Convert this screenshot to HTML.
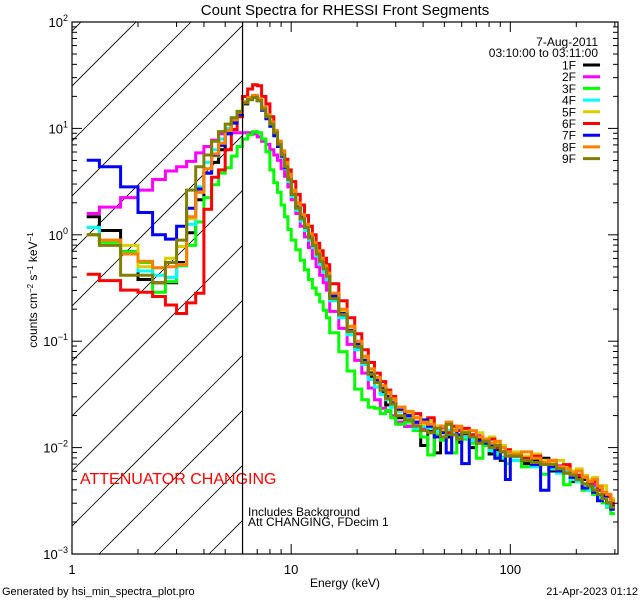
<!DOCTYPE html>
<html><head><meta charset="utf-8"><style>
html,body{margin:0;padding:0;background:#fff;}
svg{display:block;font-family:"Liberation Sans",sans-serif;}
</style></head><body>
<svg id="chart" width="640" height="600" viewBox="0 0 640 600" xmlns="http://www.w3.org/2000/svg">
<rect x="0" y="0" width="640" height="600" fill="#fff"/>
<text x="345" y="15" font-size="15" text-anchor="middle">Count Spectra for RHESSI Front Segments</text>
<g id="hatch"></g>
<g id="series"></g>
<g id="axes"></g>
<text x="80" y="484" font-size="16" fill="#ff0000">ATTENUATOR CHANGING</text>
<text x="248" y="516" font-size="12">Includes Background</text>
<text x="248" y="526" font-size="12">Att CHANGING, FDecim  1</text>
<text x="345" y="587" font-size="12" text-anchor="middle">Energy (keV)</text>
<text transform="translate(37,290) rotate(-90)" font-size="12" text-anchor="middle">counts cm<tspan baseline-shift="super" font-size="8">−2</tspan> s<tspan baseline-shift="super" font-size="8">−1</tspan> keV<tspan baseline-shift="super" font-size="8">−1</tspan></text>
<text x="2" y="595" font-size="11">Generated by hsi_min_spectra_plot.pro</text>
<text x="638" y="595" font-size="11" text-anchor="end">21-Apr-2023 01:12</text>
<text x="598" y="46" font-size="12" text-anchor="end">7-Aug-2011</text>
<text x="598" y="57" font-size="12" text-anchor="end">03:10:00 to 03:11:00</text>
<g id="legend"></g>
</svg>
<script>
const segmentNames = ["1F","2F","3F","4F","5F","6F","7F","8F","9F"];
const segmentColors = ["#000000","#ff00ff","#00ff00","#00ffff","#d8d000","#ff0000","#0000ff","#ff8000","#808000"];
const binEdges = [1.1667,1.3333,1.6667,2,2.3333,2.6667,3,3.3333,3.6667,4,4.3333,4.6667,5,5.3333,5.6667,6,6.3333,6.6667,7,7.3333,7.6667,8,8.3333,8.6667,9,9.3333,9.6667,10,
10.5,11,11.5,12,12.5,13,13.5,14,14.5,15,16.5,18,19.5,21,22.5,24,25.5,27,28.5,30,33,36,39,42,45,48,51,54,57,60,65,70,75,80,85,90,95,100,
112.5,125,137.5,150,162.5,175,187.5,200,212.5,225,237.5,250,262.5,275,287.5,300];
// log10(counts cm^-2 s^-1 keV^-1) per bin
const seg1F = [0.17,0.04,-0.16,-0.42,-0.45,-0.45,-0.26,0.02,0.33,0.58,0.68,0.80,0.95,1.07,1.15,
1.23,1.28,1.30,1.27,1.19,1.10,1.03,0.95,0.86,0.76,0.65,0.53,
0.39,0.26,0.16,0.06,-0.02,-0.11,-0.17,-0.26,-0.31,-0.40,
-0.58,-0.76,-0.89,-1.06,-1.18,-1.33,-1.38,-1.48,-1.60,-1.58,
-1.72,-1.80,-1.76,-1.98,-1.85,-2.05,-1.84,-1.90,-1.83,-1.95,-1.87,-2.00,-1.92,-1.96,-2.06,-2.02,-2.12,-2.05,
-2.08,-2.15,-2.12,-2.10,-2.22,-2.18,-2.20,-2.32,-2.28,-2.30,-2.38,-2.37,-2.45,-2.44,-2.52,-2.55];
const seg2F = [0.20,0.26,0.35,0.42,0.52,0.60,0.64,0.69,0.77,0.83,0.89,0.95,0.96,0.96,0.96,
0.96,0.96,0.95,0.92,0.88,0.85,0.80,0.75,0.70,0.62,0.55,0.45,
0.33,0.20,0.08,-0.02,-0.12,-0.22,-0.30,-0.38,-0.45,-0.52,
-0.72,-0.88,-1.03,-1.18,-1.30,-1.44,-1.55,-1.63,-1.66,-1.70,
-1.76,-1.80,-1.77,-1.82,-1.86,-1.80,-1.83,-1.86,-1.82,-1.84,-1.86,-1.90,-1.88,-1.95,-1.96,-1.99,-2.04,-2.02,
-2.06,-2.09,-2.08,-2.12,-2.14,-2.17,-2.18,-2.22,-2.26,-2.28,-2.30,-2.35,-2.39,-2.42,-2.46,-2.50];
const seg3F = [0.07,-0.07,-0.16,-0.26,-0.54,-0.44,-0.29,-0.10,0.12,0.35,0.47,0.58,0.63,0.74,0.83,
0.90,0.94,0.97,0.96,0.90,0.78,0.61,0.49,0.40,0.28,0.17,0.05,
-0.05,-0.14,-0.24,-0.33,-0.42,-0.50,-0.56,-0.63,-0.71,-0.78,
-0.92,-1.10,-1.28,-1.45,-1.55,-1.62,-1.63,-1.68,-1.65,-1.72,
-1.78,-1.76,-1.84,-1.90,-2.07,-1.88,-1.93,-1.87,-2.05,-1.90,-1.92,-1.96,-2.10,-1.98,-2.02,-2.08,-2.09,-2.15,
-2.12,-2.18,-2.16,-2.25,-2.20,-2.23,-2.35,-2.28,-2.32,-2.40,-2.38,-2.44,-2.47,-2.52,-2.56,-2.62];
const seg4F = [0.07,-0.05,-0.18,-0.34,-0.38,-0.40,-0.28,0.10,0.45,0.68,0.80,0.90,1.00,1.10,1.16,
1.25,1.29,1.31,1.27,1.17,1.10,1.02,0.94,0.84,0.73,0.62,0.50,
0.36,0.23,0.13,0.04,-0.05,-0.12,-0.20,-0.28,-0.35,-0.42,
-0.62,-0.78,-0.94,-1.08,-1.22,-1.36,-1.43,-1.50,-1.55,-1.62,
-1.66,-1.72,-1.82,-1.80,-1.82,-1.85,-1.90,-1.84,-1.88,-1.83,-1.90,-1.93,-1.96,-1.95,-2.03,-2.05,-2.10,-2.06,
-2.12,-2.10,-2.18,-2.15,-2.20,-2.24,-2.22,-2.30,-2.32,-2.35,-2.40,-2.38,-2.47,-2.45,-2.55,-2.52];
const seg5F = [0.00,-0.05,-0.10,-0.30,-0.31,-0.22,-0.11,0.15,0.40,0.62,0.74,0.85,0.98,1.08,1.15,
1.24,1.28,1.30,1.27,1.19,1.12,1.05,0.97,0.87,0.77,0.66,0.55,
0.40,0.28,0.17,0.09,-0.01,-0.08,-0.16,-0.23,-0.30,-0.37,
-0.56,-0.72,-0.88,-1.02,-1.16,-1.28,-1.36,-1.42,-1.50,-1.55,
-1.65,-1.68,-1.72,-1.78,-1.75,-1.80,-1.84,-1.78,-1.82,-1.80,-1.84,-1.88,-1.86,-1.92,-1.90,-1.96,-1.98,-2.02,
-2.04,-2.08,-2.06,-2.12,-2.14,-2.12,-2.18,-2.22,-2.20,-2.26,-2.30,-2.28,-2.38,-2.36,-2.44,-2.48];
const seg6F = [-0.37,-0.43,-0.52,-0.54,-0.58,-0.66,-0.74,-0.64,-0.55,0.24,0.54,0.61,0.80,0.99,1.11,
1.30,1.37,1.41,1.40,1.30,1.23,1.11,0.97,0.88,0.78,0.71,0.61,
0.50,0.38,0.28,0.18,0.08,0.00,-0.08,-0.15,-0.22,-0.28,
-0.46,-0.62,-0.78,-0.93,-1.08,-1.20,-1.30,-1.38,-1.46,-1.52,
-1.62,-1.70,-1.68,-1.76,-1.72,-1.82,-1.80,-1.86,-1.80,-1.84,-1.82,-1.88,-1.90,-1.94,-1.92,-2.00,-2.04,-2.02,
-2.06,-2.10,-2.08,-2.14,-2.12,-2.18,-2.16,-2.24,-2.26,-2.28,-2.34,-2.32,-2.40,-2.44,-2.46,-2.52];
const seg7F = [0.70,0.64,0.45,0.21,0.00,-0.04,0.08,0.25,0.43,0.58,0.75,0.84,0.95,1.05,1.13,
1.24,1.28,1.30,1.26,1.17,1.09,1.02,0.93,0.83,0.74,0.63,0.52,
0.38,0.26,0.16,0.07,-0.02,-0.10,-0.17,-0.24,-0.30,-0.38,
-0.57,-0.74,-0.90,-1.03,-1.18,-1.30,-1.37,-1.44,-1.52,-1.58,
-1.64,-1.70,-1.76,-1.74,-1.80,-1.90,-1.86,-2.05,-1.84,-1.88,-2.15,-1.90,-1.94,-1.96,-1.98,-2.10,-2.04,-2.30,
-2.08,-2.12,-2.16,-2.40,-2.18,-2.22,-2.24,-2.28,-2.30,-2.38,-2.36,-2.42,-2.50,-2.46,-2.52,-2.58];
const seg8F = [0.00,-0.05,-0.18,-0.25,-0.31,-0.30,-0.28,0.17,0.40,0.62,0.76,0.86,0.98,1.08,1.15,
1.25,1.29,1.31,1.28,1.20,1.13,1.06,0.98,0.88,0.79,0.68,0.57,
0.42,0.30,0.19,0.10,0.01,-0.07,-0.15,-0.22,-0.29,-0.36,
-0.55,-0.70,-0.86,-1.00,-1.14,-1.26,-1.34,-1.42,-1.48,-1.54,
-1.62,-1.66,-1.72,-1.76,-1.78,-1.82,-1.80,-1.76,-1.84,-1.80,-1.86,-1.84,-1.90,-1.92,-1.96,-1.94,-2.00,-2.04,
-2.06,-2.04,-2.10,-2.14,-2.12,-2.18,-2.20,-2.24,-2.22,-2.28,-2.32,-2.30,-2.36,-2.42,-2.44,-2.50];
const seg9F = [0.00,-0.10,-0.38,-0.38,-0.45,-0.26,-0.05,0.42,0.64,0.75,0.88,0.97,1.04,1.10,1.16,
1.24,1.27,1.29,1.26,1.18,1.11,1.04,0.96,0.85,0.75,0.64,0.52,
0.38,0.25,0.15,0.07,-0.03,-0.10,-0.18,-0.25,-0.32,-0.39,
-0.60,-0.75,-0.91,-1.05,-1.20,-1.31,-1.39,-1.46,-1.54,-1.59,
-1.70,-1.74,-1.80,-1.84,-1.86,-1.82,-1.90,-1.78,-1.88,-1.92,-1.86,-1.90,-1.96,-1.94,-2.00,-1.98,-2.04,-2.08,
-2.08,-2.12,-2.14,-2.16,-2.16,-2.20,-2.24,-2.26,-2.30,-2.34,-2.36,-2.40,-2.44,-2.48,-2.52,-2.56];
const allSeries = [seg1F,seg2F,seg3F,seg4F,seg5F,seg6F,seg7F,seg8F,seg9F];
const xTickValues = [1,10,100];
const xTickLabels = ["1","10","100"];
const yTickExponents = [-3,-2,-1,0,1,2];
const attenuatorEdgeKeV = 6;

const NS = "http://www.w3.org/2000/svg";
const L = 72, R = 618, T = 22, B = 554;
const xMin = 1, xMax = 310, yMinExp = -3, yMaxExp = 2;
function xs(e){ return L + (Math.log10(e) - Math.log10(xMin)) / (Math.log10(xMax) - Math.log10(xMin)) * (R - L); }
function ysLog(lg){ return B - (lg - yMinExp) / (yMaxExp - yMinExp) * (B - T); }
function mk(tag, attrs, parent){ const el = document.createElementNS(NS, tag); for (const k in attrs) el.setAttribute(k, attrs[k]); parent.appendChild(el); return el; }

// hatch
const hatch = document.getElementById('hatch');
const defs = mk('defs', {}, document.getElementById('chart'));
const cp = mk('clipPath', {id:'hclip'}, defs);
mk('rect', {x:L, y:T, width: xs(attenuatorEdgeKeV)-L, height:B-T}, cp);
const cp2 = mk('clipPath', {id:'pclip'}, defs);
mk('rect', {x:L, y:T, width:R-L, height:B-T}, cp2);
hatch.setAttribute('clip-path','url(#hclip)');
for (let k = -12; k <= 2; k++) {
  const c = 653 + k*55;
  const ln = mk('line', {x1:c-B, y1:B, x2:c-T, y2:T, stroke:'#000', 'stroke-width':0.8}, hatch);
  
  
}
const attLine = mk('line', {x1:xs(attenuatorEdgeKeV), y1:T, x2:xs(attenuatorEdgeKeV), y2:B, stroke:'#000', 'stroke-width':1.2}, hatch.parentNode);



// series
const sg = document.getElementById('series');
sg.setAttribute('clip-path','url(#pclip)');
allSeries.forEach((vals, si) => {
  let d = '';
  for (let i = 0; i < vals.length; i++) {
    const x0 = xs(binEdges[i]), x1 = xs(binEdges[i+1]), y = ysLog(vals[i]);
    d += (i === 0 ? 'M' : 'L') + x0.toFixed(1) + ',' + y.toFixed(1) + 'L' + x1.toFixed(1) + ',' + y.toFixed(1);
  }
  const p = mk('path', {d:d, fill:'none', stroke:segmentColors[si], 'stroke-width':3, 'stroke-linejoin':'miter'}, sg);
  
  
});

// axes
const ax = document.getElementById('axes');
const frame = mk('rect', {x:L, y:T, width:R-L, height:B-T, fill:'none', stroke:'#000', 'stroke-width':1.2}, ax);


for (let dec = 0; dec <= 2; dec++) {
  for (let m = 1; m <= 9; m++) {
    const v = m * Math.pow(10, dec);
    if (v > xMax) break;
    const x = xs(v), len = m === 1 ? 10 : 5;
    const t1 = mk('line', {x1:x, y1:B, x2:x, y2:B-len, stroke:'#000', 'stroke-width':1}, ax);
    
    
    const t2 = mk('line', {x1:x, y1:T, x2:x, y2:T+len, stroke:'#000', 'stroke-width':1}, ax);
    
    
  }
}
xTickValues.forEach((v, i) => {
  const t = mk('text', {x:xs(v), y:B+20, 'font-size':13, 'text-anchor':'middle'}, ax);
  t.textContent = xTickLabels[i];
  
  
});
for (let e = yMinExp; e < yMaxExp; e++) {
  for (let m = 1; m <= 9; m++) {
    const y = ysLog(e + Math.log10(m)), len = m === 1 ? 10 : 5;
    const a = mk('line', {x1:L, y1:y, x2:L+len, y2:y, stroke:'#000', 'stroke-width':1}, ax);
    
    
    const b = mk('line', {x1:R, y1:y, x2:R-len, y2:y, stroke:'#000', 'stroke-width':1}, ax);
    
    
  }
}
yTickExponents.forEach(e => {
  const y = ysLog(e);
  const t = mk('text', {x:L-4, y:y+5, 'font-size':13, 'text-anchor':'end'}, ax);
  
  
  const base = document.createElementNS(NS, 'tspan'); base.textContent = '10'; t.appendChild(base);
  const sup = document.createElementNS(NS, 'tspan');
  sup.setAttribute('dy', '-6'); sup.setAttribute('font-size', '9');
  sup.textContent = e < 0 ? '\u2212' + (-e) : String(e);
  t.appendChild(sup);
  t.setAttribute('dx', '0');
});
// legend
const lg = document.getElementById('legend');
segmentNames.forEach((n, i) => {
  const y = 65 + i * 11.7;
  const t = mk('text', {x:576, y:y+4.5, 'font-size':12, 'text-anchor':'end'}, lg);
  t.textContent = n;
  
  
  const l = mk('line', {x1:583, y1:y, x2:600, y2:y, stroke:segmentColors[i], 'stroke-width':3}, lg);
  
  
});
</script>
</body></html>
